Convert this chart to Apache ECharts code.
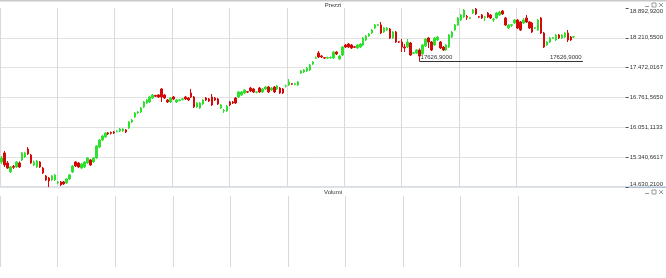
<!DOCTYPE html>
<html><head><meta charset="utf-8">
<script src="https://cdn.jsdelivr.net/npm/echarts@6/dist/echarts.min.js"></script>
<style>html,body{margin:0;padding:0;background:#fff}#c{width:666px;height:278px}</style>
</head><body><div id="c"></div>
<script>
// ---- data ----
const opens = [15226,15441,15202,14988,15120,15107,15202,15274,15345,15536,15393,15155,15107,15226,15083,14893,14845,14798,14798,14726,
14750,14750,14726,14822,14988,15226,15202,15083,15107,15202,15274,15226,15322,15583,15750,15822,15917,15930,15941,15955,
15964,15964,15988,16036,16179,16298,16393,16417,16536,16631,16655,16750,16810,16822,16964,16822,16702,16655,16774,16655,
16690,16712,16774,16750,16869,16774,16536,16512,16607,16750,16726,16774,16750,16726,16512,16440,16441,16655,16655,16750,
16774,16822,16869,16900,16988,16964,16885,16988,16893,16964,17012,16941,17012,16964,16988,16964,17030,17060,17090,17075,
17060,17345,17369,17393,17417,17560,17695,17822,17750,17710,17700,17705,17703,17845,17679,17774,18012,18036,18012,17970,
17941,17964,18012,18131,18226,18298,18417,18480,18488,18322,18369,18393,18179,18322,18090,18083,17964,17964,18060,17815,
17822,17893,17798,17988,18179,18083,18012,18131,18083,17964,17893,17964,18203,18369,18488,18607,18679,18690,18650,18774,
18870,18685,18726,18670,18774,18726,18610,18655,18726,18822,18655,18417,18480,18536,18607,18560,18536,18655,18560,18536,
18410,18369,18655,18298,18012,18083,18170,18131,18250,18179,18203,18298,18203,18200];
const closes = [15322,15155,15083,15107,15100,15226,15107,15441,15441,15417,15202,15226,15250,15107,14964,14798,14774,14893,14917,14750,
14679,14702,14822,14917,15131,15131,15107,15179,15226,15322,15155,15322,15607,15750,15845,15917,15893,15910,15917,15964,
16012,16012,15941,16179,16226,16393,16417,16512,16655,16702,16774,16822,16790,16774,16774,16750,16655,16750,16726,16702,
16705,16730,16726,16702,16774,16536,16631,16631,16702,16702,16679,16583,16702,16607,16583,16455,16560,16583,16631,16631,
16893,16893,16941,16890,16917,16893,16895,16893,16964,17012,16893,16988,16893,17036,16869,16869,17040,17131,17080,17090,
17131,17393,17417,17464,17536,17607,17710,17726,17726,17700,17712,17715,17845,17798,17750,17964,17964,17964,17941,17960,
18012,18036,18179,18226,18274,18369,18488,18495,18298,18417,18417,18179,18322,18083,18080,17964,17941,18083,17774,17825,
17893,17750,18012,18155,18083,17893,18179,18203,17941,17893,18012,18250,18322,18488,18655,18726,18845,18670,18660,18845,
18750,18675,18655,18680,18679,18655,18625,18774,18798,18750,18488,18488,18495,18607,18417,18369,18607,18560,18417,18322,
18425,18607,18298,17964,18083,18179,18185,18250,18179,18250,18298,18131,18131,18210.55];
const lows = [15179,15107,15060,14964,15060,15083,15083,15250,15320,15393,15180,15131,15083,15083,14941,14774,14630.21,14774,14774,14702,
14655,14679,14702,14798,14964,15107,15083,15060,15083,15179,15131,15202,15298,15560,15726,15798,15869,15880,15893,15930,
15941,15941,15917,16012,16155,16274,16369,16393,16512,16607,16631,16726,16774,16750,16655,16726,16631,16631,16702,16631,
16670,16690,16702,16679,16750,16512,16512,16488,16583,16679,16655,16560,16679,16583,16488,16393,16417,16560,16607,16607,
16750,16798,16845,16869,16893,16869,16860,16869,16869,16941,16869,16917,16869,16941,16845,16845,17000,17036,17060,17050,
17036,17322,17345,17369,17393,17536,17679,17703,17703,17679,17679,17690,17679,17774,17655,17750,17941,17941,17917,17941,
17917,17941,17988,18107,18203,18274,18393,18464,18274,18298,18345,18155,18155,18060,18060,17845,17845,17941,17750,17798,
17798,17626.9,17774,17964,17941,17869,17988,18107,17917,17869,17869,17941,18179,18345,18464,18583,18655,18607,18630,18750,
18726,18655,18631,18583,18655,18631,18560,18631,18703,18726,18464,18393,18441,18512,18393,18345,18512,18536,18393,18298,
18393,18345,18274,17941,17988,18060,18155,18107,18155,18155,18179,18083,18107,18179];
const highs = [15369,15488,15250,15131,15155,15250,15240,15464,15470,15583,15420,15260,15274,15250,15107,14917,14869,14917,14941,14774,
14774,14774,14845,14941,15155,15250,15226,15202,15250,15345,15298,15345,15631,15774,15869,15941,15941,15950,15964,15988,
16036,16030,16012,16202,16250,16417,16441,16536,16679,16726,16798,16845,16822,16845,16988,16845,16726,16774,16798,16726,
16726,16750,16798,16774,16964,16798,16655,16655,16726,16774,16750,16845,16774,16750,16607,16488,16583,16679,16679,16774,
16917,16917,16964,16917,17012,16988,16917,17012,16988,17036,17036,17012,17036,17060,17012,16988,17070,17203,17107,17110,
17155,17417,17441,17488,17560,17631,17740,17869,17774,17726,17735,17740,17869,17869,17774,17988,18036,18060,18036,17988,
18036,18060,18203,18250,18298,18393,18512,18512,18560,18441,18441,18417,18345,18345,18107,18155,18036,18155,18083,17845,
17917,17930,18036,18179,18203,18107,18203,18226,18107,17988,18036,18274,18345,18512,18679,18750,18869,18726,18680,18869,
18892.92,18703,18750,18703,18798,18750,18655,18798,18822,18845,18679,18512,18512,18631,18631,18583,18655,18726,18583,18560,
18441,18631,18679,18322,18107,18203,18203,18274,18274,18274,18322,18369,18226,18226];
const priceTickLabels = ['14.630,2100','15.340,6617','16.051,1133','16.761,5650','17.472,0167','18.210,5500','18.892,9200'];
const supportLevel = 17626.9;
const supportLabel = '17626,9000';
const padCount = 17;      // empty slots after the last candle
const gridStep = 19.35;   // categories between vertical grid lines
const shownVLines = 10;   // vertical grid lines that are drawn

// ---- build ----
const n = opens.length;
const categories = [];
for (let i = 0; i < n + padCount; i++) categories.push(String(i + 1));
const candles = opens.map((o, i) => [o, closes[i], lows[i], highs[i]]);
const supportStart = lows.indexOf(supportLevel);
const supportEnd = n - 1 + 3;

const GREEN = '#2fe02f', RED = '#d20a0a';
const FONT = 'Liberation Sans, Arial, sans-serif';
const txt = {fontSize: 6, color: '#333', fontFamily: FONT};

const vColors = [];
for (let i = 0; i < 20; i++) vColors.push(i < shownVLines ? '#dadada' : 'rgba(0,0,0,0)');

function vGrid(gi) {
  return {type: 'value', gridIndex: gi, min: 0, max: categories.length, interval: gridStep, position: 'top',
    axisLine: {show: false}, axisTick: {show: false}, axisLabel: {show: false},
    splitLine: {show: true, showMaxLine: false, lineStyle: {color: vColors, width: 1}}};
}
function icons(y) {
  const c = '#9a9a9a';
  return [
    {type: 'rect', shape: {x: 645, y: y + 3, width: 4, height: 1}, style: {fill: c}},
    {type: 'rect', shape: {x: 652, y: y, width: 4, height: 4}, style: {fill: 'none', stroke: c, lineWidth: 1}},
    {type: 'line', shape: {x1: 659, y1: y, x2: 663, y2: y + 4}, style: {stroke: c, lineWidth: 1}},
    {type: 'line', shape: {x1: 663, y1: y, x2: 659, y2: y + 4}, style: {stroke: c, lineWidth: 1}}
  ];
}

const chart = echarts.init(document.getElementById('c'), null, {renderer: 'canvas'});
chart.setOption({
  animation: false,
  backgroundColor: '#ffffff',
  textStyle: {fontFamily: FONT},
  grid: [
    {left: 0, right: 38, top: 8, height: 179},
    {left: 0, right: 38, top: 196, height: 71}
  ],
  xAxis: [
    {type: 'category', gridIndex: 0, data: categories, boundaryGap: true,
      axisLine: {show: false}, axisTick: {show: false}, axisLabel: {show: false}, splitLine: {show: false}},
    vGrid(0),
    vGrid(1)
  ],
  yAxis: [
    {type: 'value', gridIndex: 0, min: 'dataMin', max: 'dataMax', scale: true,
      axisLine: {show: false}, axisTick: {show: false}, axisLabel: {show: false}, splitLine: {show: false}},
    {type: 'value', gridIndex: 0, min: 0, max: priceTickLabels.length - 1, interval: 1, position: 'right',
      axisLine: {show: false},
      axisTick: {show: true, length: 3, lineStyle: {color: '#555'}},
      axisLabel: Object.assign({margin: 4, formatter: v => priceTickLabels[Math.round(v)] || '',
        verticalAlignMinLabel: 'bottom', verticalAlignMaxLabel: 'top'}, txt),
      splitLine: {show: true, showMaxLine: false, lineStyle: {color: '#e2e2e2'}}},
    {type: 'value', gridIndex: 1, min: 0, max: 1, show: false}
  ],
  series: [{
    type: 'candlestick', xAxisIndex: 0, yAxisIndex: 0, data: candles, barWidth: 2,
    itemStyle: {color: GREEN, color0: RED, borderColor: GREEN, borderColor0: RED, borderColorDoji: GREEN, borderWidth: 1},
    markLine: {
      symbol: 'none', silent: true, animation: false,
      lineStyle: {color: '#333', width: 1, type: 'solid'},
      data: [
        [{coord: [supportStart, supportLevel], label: Object.assign({show: true, position: 'insideStartTop', distance: 1, formatter: supportLabel}, txt)},
         {coord: [supportEnd, supportLevel]}],
        [{coord: [supportStart, supportLevel], label: Object.assign({show: true, position: 'insideEndTop', distance: 1, formatter: supportLabel}, txt)},
         {coord: [supportEnd, supportLevel]}]
      ]
    }
  }],
  graphic: [
    {type: 'rect', shape: {x: 0, y: 0, width: 666, height: 1.5}, style: {fill: '#c9c9c9'}},
    {type: 'rect', shape: {x: 0, y: 186.5, width: 666, height: 1.5}, style: {fill: '#aebfd3'}},
    {type: 'text', x: 333, y: 5, style: {text: 'Prezzi', textAlign: 'center', textVerticalAlign: 'middle', fontSize: 6, fill: '#333', fontFamily: FONT}},
    {type: 'text', x: 333, y: 192, style: {text: 'Volumi', textAlign: 'center', textVerticalAlign: 'middle', fontSize: 6, fill: '#333', fontFamily: FONT}}
  ].concat(icons(3), icons(190))
});
</script>
</body></html>
